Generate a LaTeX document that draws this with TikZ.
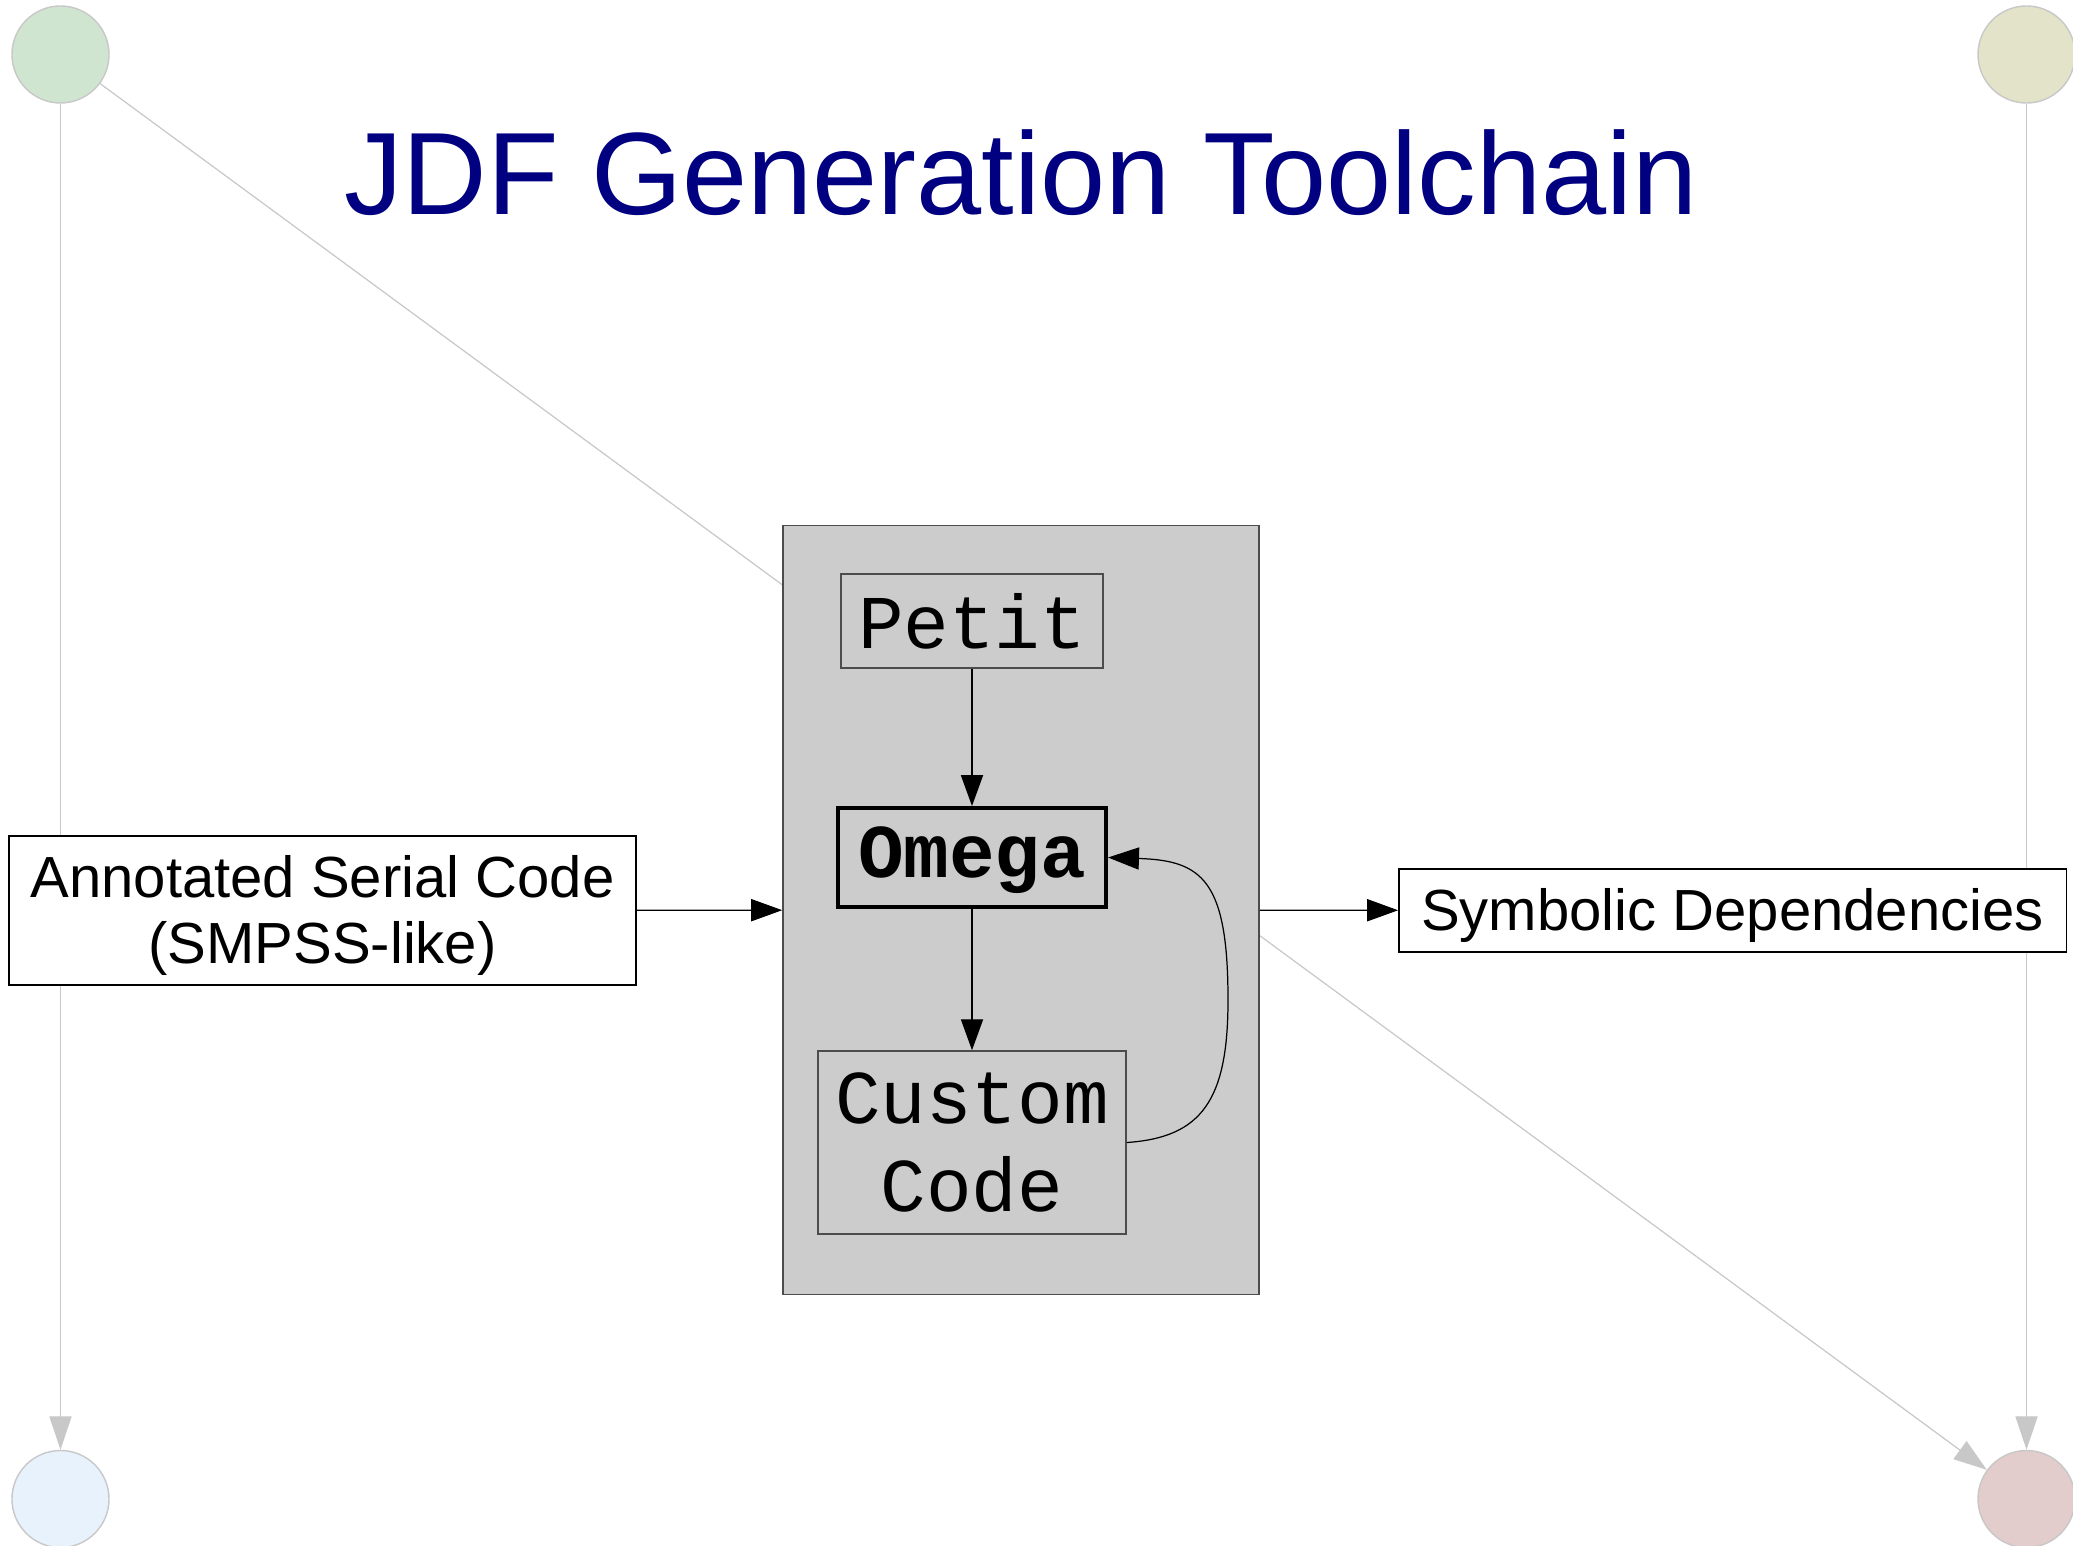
\documentclass[tikz,border=0pt]{standalone}
\usepackage{fontspec}
\setmainfont{Liberation Sans}
\setmonofont{Liberation Mono}
\usepackage{tikz}
\usetikzlibrary{arrows.meta}
\definecolor{titleblue}{HTML}{000080}
\definecolor{boxgray}{HTML}{CCCCCC}
\definecolor{edgegray}{HTML}{C8C8C8}

\begin{document}
\begin{tikzpicture}[x=0.01cm, y=-0.01cm,
  corner/.style={circle, draw=edgegray, line width=0.4pt, minimum size=0.97cm, inner sep=0pt},
  faint/.style={draw=edgegray, line width=0.35pt, -{Triangle[length=9.5pt, width=6.3pt]}},
  flow/.style={draw=black, line width=0.35pt, -{Triangle[length=8.8pt, width=6.3pt]}},
  outer/.style={draw=black, line width=0.4pt, fill=white, inner sep=0pt, font=\fontsize{16.5}{18.8}\selectfont, align=center},
  tool/.style={draw=black!70, line width=0.4pt, inner sep=0pt, font=\ttfamily\fontsize{21.6}{25}\selectfont, align=center}]
\useasboundingbox (0,0) rectangle (2073,1546);
% corner circles and their grey links
\node[corner, fill={rgb,255:red,207;green,229;blue,207}] (greenc) at (60.5,54.5) {};
\node[corner, fill={rgb,255:red,227;green,227;blue,201}] (olivec) at (2026.5,54.5) {};
\node[corner, fill={rgb,255:red,232;green,242;blue,252}] (bluec) at (60.5,1499) {};
\node[corner, fill={rgb,255:red,226;green,204;blue,204}] (pinkc) at (2026.5,1499) {};
\draw[faint] (greenc) -- (bluec);
\draw[faint] (olivec) -- (pinkc);
\draw[faint] (greenc) -- (pinkc);
\node[font=\fontsize{33.3}{40}\selectfont, text=titleblue, anchor=base] (title) at (1021,215) {JDF Generation Toolchain};
% the toolchain box
\node[draw=black!70, line width=0.4pt, fill=boxgray, minimum width=4.76cm, minimum height=7.68cm, inner sep=0pt] (chain) at (1021,910) {};
\node[tool, minimum width=2.62cm, minimum height=0.94cm] (petit) at (972,621) {Petit};
\node[tool, draw=black, line width=1.1pt, minimum width=2.68cm, minimum height=0.99cm, text height=15.8pt, font=\ttfamily\bfseries\fontsize{21.6}{25}\selectfont] (omega) at (972,857.5) {Omega};
\node[tool, minimum width=3.08cm, minimum height=1.83cm] (custom) at (972,1142.5) {Custom\\Code};
\coordinate (loopback) at (1228,1000);
\draw[flow] (petit) -- (omega);
\draw[flow] (omega) -- (custom);
\draw[flow] (custom.east) .. controls +(75,-5) and +(0,100) .. (loopback) .. controls +(0,-120) and +(94,3) .. (omega.east);
% input and output
\node[outer, minimum width=6.27cm, minimum height=1.49cm, text height=33.5pt] (serial) at (322.5,910.5) {Annotated Serial Code\\(SMPSS-like)};
\node[outer, minimum width=6.67cm, minimum height=0.83cm, text height=14.8pt] (deps) at (1732.5,910.5) {Symbolic Dependencies};
\draw[flow] (serial) -- (chain);
\draw[flow] (chain) -- (deps);
\end{tikzpicture}
\end{document}
